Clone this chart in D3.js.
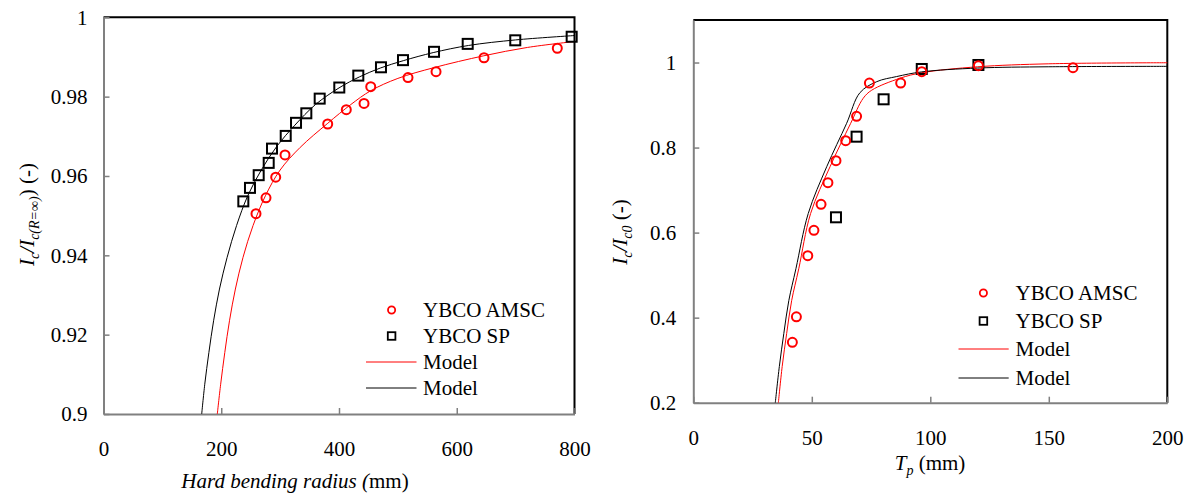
<!DOCTYPE html>
<html><head><meta charset="utf-8">
<script src="https://cdn.jsdelivr.net/npm/d3@7"></script>
<style>body{margin:0;background:#fff;}</style></head>
<body><svg id="c" width="1192" height="495" font-family="Liberation Serif"></svg>
<script>
// ---------- Left chart data (hard bending radius) ----------
const amscRadius = [259, 276, 292.5, 308.3, 380.8, 412.4, 442.5, 453.9, 517.2, 564.8, 646.3, 770.8];
const amscRatio  = [0.9505, 0.9545, 0.9597, 0.9653, 0.9731, 0.9767, 0.9783, 0.9825, 0.9848, 0.9863, 0.9898, 0.9922];
const spRadius = [237.5, 248.8, 263.6, 280.6, 286.2, 309.5, 327, 344.5, 367.2, 400.5, 432.8, 471.3, 508.7, 561.4, 618.6, 699.4, 795.2];
const spRatio  = [0.9536, 0.9570, 0.9602, 0.9633, 0.9669, 0.9701, 0.9734, 0.9758, 0.9795, 0.9823, 0.9853, 0.9874, 0.9892, 0.9913, 0.9933, 0.9942, 0.9951];
const modelRedRadius = [193.3, 199, 206, 214, 224, 237, 254, 275, 300, 334, 381, 420, 454, 500, 561, 646, 720, 800];
const modelRedRatio  = [0.900, 0.9075, 0.9155, 0.9235, 0.9315, 0.9395, 0.9475, 0.9550, 0.9615, 0.9672, 0.9733, 0.9780, 0.9815, 0.9846, 0.9873, 0.9903, 0.9924, 0.9939];
const modelBlackRadius = [166.8, 172, 179, 187, 197, 210, 226, 245, 268, 295, 325, 360, 400, 435, 470, 510, 560, 620, 700, 800];
const modelBlackRatio  = [0.900, 0.9075, 0.9155, 0.9235, 0.9315, 0.9395, 0.9475, 0.9550, 0.9615, 0.9676, 0.9728, 0.9780, 0.9822, 0.985, 0.9872, 0.9891, 0.9911, 0.9929, 0.9943, 0.9954];
const leftXTicks = [0, 200, 400, 600, 800];
const leftYTicks = [0.9, 0.92, 0.94, 0.96, 0.98, 1];

// ---------- Right chart data (Tp) ----------
const amscTp    = [41.8, 43.5, 48.3, 50.9, 53.9, 56.8, 60.2, 64.3, 68.9, 74.3, 87.5, 96.4, 120.3, 160.2];
const amscTpVal = [0.342, 0.402, 0.5457, 0.6054, 0.6666, 0.7174, 0.7691, 0.8162, 0.8735, 0.9518, 0.9518, 0.9784, 0.9925, 0.9878];
const spTp    = [60.2, 68.9, 80.3, 96.4, 120.3];
const spTpVal = [0.636, 0.8256, 0.9135, 0.9848, 0.9942];
const modelRedTp    = [35.9, 37.5, 39.4, 41.5, 44.5, 49.5, 57.7, 66.4, 71.7, 75.3, 87.2, 96.4, 120, 150, 200];
const modelRedTpVal = [0.2, 0.285, 0.363, 0.44, 0.515, 0.645, 0.755, 0.857, 0.916, 0.935, 0.963, 0.976, 0.990, 0.997, 0.9995];
const modelBlackTp    = [34.6, 36.3, 38.2, 40.3, 43.3, 48.5, 56.3, 64.7, 70.3, 77.4, 85.8, 96.4, 120, 150, 200];
const modelBlackTpVal = [0.2, 0.285, 0.363, 0.44, 0.515, 0.645, 0.755, 0.857, 0.929, 0.955, 0.967, 0.978, 0.987, 0.990, 0.991];
const rightXTicks = [0, 50, 100, 150, 200];
const rightYTicks = [0.2, 0.4, 0.6, 0.8, 1];

const legendLabels = ["YBCO AMSC", "YBCO SP", "Model", "Model"];

const FF = "Liberation Serif";
const RED = "#ff0000";
const svg = d3.select("#c");
const zip = (a, b) => a.map((v, i) => [v, b[i]]);

function drawChart(cfg) {
  const g = svg.append("g");
  const x = d3.scaleLinear().domain(cfg.xDomain).range(cfg.xRange);
  const y = d3.scaleLinear().domain(cfg.yDomain).range(cfg.yRange);
  const [x0, x1] = cfg.xRange, [y0, y1] = cfg.yRange;

  g.append("path").attr("d", `M${x0},${y1}H${x1}V${y0}`)
    .attr("fill", "none").attr("stroke", "#000").attr("stroke-width", 2);

  const ax = d3.axisBottom(x).tickValues(cfg.xTicks).tickSizeInner(-6).tickSizeOuter(0)
    .tickPadding(27).tickFormat(d3.format("d"));
  const gx = g.append("g").attr("transform", `translate(0,${y0})`).call(ax);
  const ay = d3.axisLeft(y).tickValues(cfg.yTicks).tickSizeInner(-6).tickSizeOuter(0)
    .tickPadding(cfg.yPad).tickFormat(d => String(+d.toFixed(2)));
  const gy = g.append("g").attr("transform", `translate(${x0},0)`).call(ay);
  [gx, gy].forEach(a => {
    a.attr("font-family", FF).attr("font-size", 21);
    a.select(".domain").attr("stroke", "#808080").attr("stroke-width", 2);
    a.selectAll(".tick line").attr("stroke", "#808080").attr("stroke-width", 1.5);
    a.selectAll(".tick text").attr("fill", "#000").attr("font-family", FF).attr("font-size", 21);
  });

  const line = d3.line().x(d => x(d[0])).y(d => y(d[1])).curve(d3.curveCatmullRom.alpha(0.5));
  g.append("path").datum(cfg.red).attr("d", line).attr("fill", "none")
    .attr("stroke", RED).attr("stroke-width", 1);
  g.append("path").datum(cfg.black).attr("d", line).attr("fill", "none")
    .attr("stroke", "#000").attr("stroke-width", 1);

  g.selectAll(".sq").data(cfg.squares).join("rect")
    .attr("x", d => x(d[0]) - 5).attr("y", d => y(d[1]) - 5)
    .attr("width", 10).attr("height", 10)
    .attr("fill", "none").attr("stroke", "#000").attr("stroke-width", 2);
  g.selectAll(".ci").data(cfg.circles).join("circle")
    .attr("cx", d => x(d[0])).attr("cy", d => y(d[1])).attr("r", 4.5)
    .attr("fill", "none").attr("stroke", RED).attr("stroke-width", 2);

  const L = cfg.legend;
  const lg = g.append("g");
  lg.append("circle").attr("cx", L.mx).attr("cy", L.rows[0]).attr("r", 3.6)
    .attr("fill", "none").attr("stroke", RED).attr("stroke-width", 1.8);
  lg.append("rect").attr("x", L.mx - 3.8).attr("y", L.rows[1] - 3.8).attr("width", 7.6).attr("height", 7.6)
    .attr("fill", "none").attr("stroke", "#000").attr("stroke-width", 1.8);
  lg.append("line").attr("x1", L.lx0).attr("x2", L.lx1).attr("y1", L.rows[2]).attr("y2", L.rows[2])
    .attr("stroke", RED).attr("stroke-width", 1);
  lg.append("line").attr("x1", L.lx0).attr("x2", L.lx1).attr("y1", L.rows[3]).attr("y2", L.rows[3])
    .attr("stroke", "#000").attr("stroke-width", 1);
  legendLabels.forEach((t, i) => {
    lg.append("text").attr("x", L.tx).attr("y", L.rows[i] + 7)
      .attr("font-family", FF).attr("font-size", 21).text(t);
  });
  return g;
}

drawChart({
  xDomain: [0, 800], xRange: [103.5, 574.5],
  yDomain: [0.9, 1], yRange: [414, 17.3],
  xTicks: leftXTicks, yTicks: leftYTicks, yPad: 16,
  red: zip(modelRedRadius, modelRedRatio), black: zip(modelBlackRadius, modelBlackRatio),
  squares: zip(spRadius, spRatio), circles: zip(amscRadius, amscRatio),
  legend: { mx: 391.6, lx0: 366, lx1: 416.5, tx: 423, rows: [310, 336, 362, 388] }
});
drawChart({
  xDomain: [0, 200], xRange: [693.3, 1167.3],
  yDomain: [0.2, 1.1], yRange: [402.7, 20],
  xTicks: rightXTicks, yTicks: rightYTicks, yPad: 17,
  red: zip(modelRedTp, modelRedTpVal), black: zip(modelBlackTp, modelBlackTpVal),
  squares: zip(spTp, spTpVal), circles: zip(amscTp, amscTpVal),
  legend: { mx: 983.4, lx0: 958.5, lx1: 1008.7, tx: 1015.5, rows: [293, 321, 349, 378] }
});

function title(tr, parts) {
  const t = svg.append("text").attr("transform", tr).attr("text-anchor", "middle")
    .attr("font-family", FF).attr("font-size", 21);
  parts.forEach(p => {
    const s = t.append("tspan").text(p.t);
    if (p.i) s.attr("font-style", "italic");
    if (p.sub) s.attr("font-size", 14);
    if (p.dy) s.attr("dy", p.dy);
  });
}
title("translate(295,488)", [{t: "Hard bending radius (", i: 1}, {t: "mm)"}]);
title("translate(930,470)", [{t: "T", i: 1}, {t: "p", i: 1, sub: 1, dy: 5}, {t: " (mm)", dy: -5}]);
title("translate(34,214.5) rotate(-90)", [{t: "I", i: 1}, {t: "c", i: 1, sub: 1, dy: 5}, {t: "/I", i: 1, dy: -5},
  {t: "c(R=∞)", i: 1, sub: 1, dy: 5}, {t: ") (-)", dy: -5}]);
title("translate(627,232) rotate(-90)", [{t: "I", i: 1}, {t: "c", i: 1, sub: 1, dy: 5}, {t: "/I", i: 1, dy: -5},
  {t: "c0", i: 1, sub: 1, dy: 5}, {t: " (-)", dy: -5}]);
</script></body></html>
